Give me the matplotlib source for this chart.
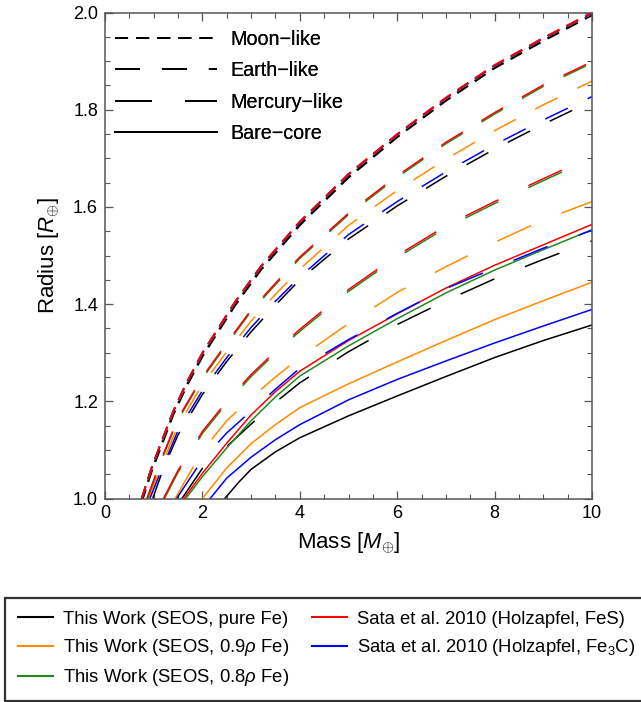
import matplotlib
matplotlib.use("Agg")
import matplotlib.pyplot as plt
from matplotlib.lines import Line2D
from matplotlib.ticker import MultipleLocator, FormatStrFormatter

plt.rcParams['font.family'] = ['Liberation Sans', 'DejaVu Sans']
plt.rcParams['mathtext.fontset'] = 'custom'
plt.rcParams['mathtext.rm'] = 'Liberation Sans'
plt.rcParams['mathtext.it'] = 'Liberation Sans:italic'
plt.rcParams['lines.scale_dashes'] = False

# --- Moon-like mantle ---
moon_m = [0.75, 0.96, 1.4, 1.68, 2.0, 2.67, 3.2, 4.0, 5.0, 6.0, 7.0, 8.0, 9.0, 10.0]
moon_r_fes = [1.0, 1.065, 1.18, 1.24, 1.30, 1.405, 1.478, 1.57, 1.668, 1.75, 1.825, 1.892, 1.948, 2.0]
moon_r_fe3c = [0.999, 1.064, 1.179, 1.239, 1.299, 1.404, 1.477, 1.569, 1.667, 1.749, 1.824, 1.891, 1.947, 1.999]
moon_r_08 = [0.999, 1.064, 1.179, 1.239, 1.299, 1.404, 1.477, 1.569, 1.667, 1.749, 1.824, 1.891, 1.947, 1.999]
moon_r_09 = [0.998, 1.063, 1.178, 1.238, 1.298, 1.403, 1.476, 1.568, 1.666, 1.748, 1.823, 1.89, 1.946, 1.998]
moon_r_fe = [0.993, 1.058, 1.173, 1.233, 1.293, 1.398, 1.471, 1.563, 1.661, 1.744, 1.819, 1.886, 1.942, 1.995]

# --- Earth-like mantle ---
earth_m_fes = [0.86, 1.0, 1.2, 1.5, 2.0, 2.5, 3.0, 3.5, 4.0, 5.0, 6.0, 7.0, 8.0, 9.0, 10.0]
earth_r_fes = [1.0, 1.038, 1.092, 1.165, 1.25, 1.32, 1.388, 1.443, 1.497, 1.587, 1.664, 1.733, 1.794, 1.851, 1.899]
earth_r_08 = [0.997, 1.035, 1.089, 1.162, 1.247, 1.317, 1.385, 1.44, 1.494, 1.584, 1.661, 1.73, 1.791, 1.848, 1.896]
earth_m_09 = [0.89, 1.2, 1.5, 2.0, 2.5, 3.0, 3.5, 4.0, 5.0, 6.0, 7.0, 8.0, 9.0, 10.0]
earth_r_09 = [1.0, 1.078, 1.15, 1.235, 1.302, 1.365, 1.42, 1.472, 1.562, 1.634, 1.698, 1.757, 1.81, 1.859]
earth_m_fe3c = [0.92, 1.2, 1.5, 2.0, 2.5, 3.0, 3.5, 4.0, 5.0, 6.0, 7.0, 8.0, 9.0, 10.0]
earth_r_fe3c = [1.0, 1.068, 1.14, 1.222, 1.29, 1.352, 1.406, 1.456, 1.543, 1.611, 1.672, 1.728, 1.779, 1.827]
earth_m_fe = [0.98, 1.2, 1.5, 2.0, 2.5, 3.0, 3.5, 4.0, 5.0, 6.0, 7.0, 8.0, 9.0, 10.0]
earth_r_fe = [1.0, 1.062, 1.131, 1.214, 1.282, 1.343, 1.398, 1.45, 1.534, 1.602, 1.663, 1.719, 1.77, 1.818]

# --- Mercury-like mantle ---
merc_m_fes = [1.2, 1.5, 2.0, 2.5, 3.0, 3.5, 4.0, 5.0, 6.0, 7.0, 8.0, 9.0, 10.0]
merc_r_fes = [1.0, 1.058, 1.138, 1.2, 1.255, 1.303, 1.348, 1.43, 1.5, 1.561, 1.611, 1.658, 1.704]
merc_r_08 = [0.996, 1.054, 1.134, 1.196, 1.251, 1.299, 1.344, 1.426, 1.496, 1.557, 1.607, 1.654, 1.7]
merc_m_09 = [1.44, 2.0, 2.5, 3.0, 3.5, 4.0, 5.0, 6.0, 7.0, 8.0, 9.0, 10.0]
merc_r_09 = [1.0, 1.098, 1.16, 1.207, 1.25, 1.29, 1.36, 1.424, 1.477, 1.527, 1.573, 1.611]
merc_m_fe3c = [1.47, 2.0, 2.5, 3.0, 3.5, 4.0, 5.0, 6.0, 7.0, 8.0, 9.0, 10.0]
merc_r_fe3c = [1.0, 1.08, 1.135, 1.18, 1.225, 1.268, 1.327, 1.381, 1.432, 1.474, 1.515, 1.552]
merc_m_fe = [1.58, 2.0, 2.5, 3.0, 3.5, 4.0, 5.0, 6.0, 7.0, 8.0, 9.0, 10.0]
merc_r_fe = [1.0, 1.062, 1.107, 1.153, 1.198, 1.238, 1.302, 1.358, 1.407, 1.452, 1.492, 1.53]

# --- Bare core ---
bare_m_fes = [1.62, 2.0, 2.5, 3.0, 3.5, 4.0, 5.0, 6.0, 7.0, 8.0, 9.0, 10.0]
bare_r_fes = [1.0, 1.052, 1.114, 1.172, 1.22, 1.262, 1.325, 1.38, 1.433, 1.48, 1.522, 1.564]
bare_m_08 = [1.66, 2.0, 2.5, 3.0, 3.5, 4.0, 5.0, 6.0, 7.0, 8.0, 9.0, 10.0]
bare_r_08 = [1.0, 1.045, 1.104, 1.16, 1.209, 1.252, 1.314, 1.37, 1.423, 1.47, 1.512, 1.553]
bare_m_09 = [2.0, 2.5, 3.0, 3.5, 4.0, 5.0, 6.0, 7.0, 8.0, 9.0, 10.0]
bare_r_09 = [1.0, 1.063, 1.113, 1.152, 1.187, 1.236, 1.281, 1.325, 1.368, 1.407, 1.445]
bare_m_fe3c = [2.16, 2.5, 3.0, 3.5, 4.0, 5.0, 6.0, 7.0, 8.0, 9.0, 10.0]
bare_r_fe3c = [1.0, 1.042, 1.085, 1.121, 1.152, 1.203, 1.245, 1.283, 1.32, 1.355, 1.389]
bare_m_fe = [2.46, 2.75, 3.0, 3.5, 4.0, 5.0, 6.0, 7.0, 8.0, 9.0, 10.0]
bare_r_fe = [1.0, 1.034, 1.06, 1.096, 1.125, 1.17, 1.211, 1.251, 1.29, 1.325, 1.357]

C_FE = 'black'
C_09 = '#ff8c00'
C_08 = '#1f8a1f'
C_FES = '#ff0000'
C_FE3C = '#0000ff'

# dash patterns in points (on, off)
MOON = (0, (9.4, 5.8))
EARTH = (0, (18.0, 15.8))
MERC = (0, (26.6, 23.8))
BARE = '-'

fig = plt.figure(figsize=(6.41, 7.02), dpi=100)
ax = fig.add_axes([105 / 641, 1 - 498.5 / 702, 487 / 641, 486 / 702])

lw = 1.1
# bare core
ax.plot(bare_m_fe, bare_r_fe, color=C_FE, ls=BARE, lw=lw, zorder=2.0)
ax.plot(bare_m_09, bare_r_09, color=C_09, ls=BARE, lw=lw, zorder=2.1)
ax.plot(bare_m_08, bare_r_08, color=C_08, ls=BARE, lw=lw, zorder=2.2)
ax.plot(bare_m_fe3c, bare_r_fe3c, color=C_FE3C, ls=BARE, lw=lw, zorder=2.3)
ax.plot(bare_m_fes, bare_r_fes, color=C_FES, ls=BARE, lw=lw, zorder=2.4)
# mercury-like
ax.plot(merc_m_fe, merc_r_fe, color=C_FE, ls=MERC, lw=lw, zorder=2.0)
ax.plot(merc_m_09, merc_r_09, color=C_09, ls=MERC, lw=lw, zorder=2.1)
ax.plot(merc_m_fes, merc_r_08, color=C_08, ls=MERC, lw=lw, zorder=2.2)
ax.plot(merc_m_fes, merc_r_fes, color=C_FES, ls=MERC, lw=lw, zorder=2.4)
ax.plot(merc_m_fe3c, merc_r_fe3c, color=C_FE3C, ls=MERC, lw=lw, zorder=2.5)
# earth-like
ax.plot(earth_m_fe, earth_r_fe, color=C_FE, ls=EARTH, lw=lw, zorder=2.0)
ax.plot(earth_m_09, earth_r_09, color=C_09, ls=EARTH, lw=lw, zorder=2.1)
ax.plot(earth_m_fes, earth_r_08, color=C_08, ls=EARTH, lw=lw, zorder=2.2)
ax.plot(earth_m_fe3c, earth_r_fe3c, color=C_FE3C, ls=EARTH, lw=lw, zorder=2.3)
ax.plot(earth_m_fes, earth_r_fes, color=C_FES, ls=EARTH, lw=lw, zorder=2.4)
# moon-like
ax.plot(moon_m, moon_r_fe, color=C_FE, ls=MOON, lw=1.8, zorder=2.0)
ax.plot(moon_m, moon_r_09, color=C_09, ls=MOON, lw=1.3, zorder=2.1)
ax.plot(moon_m, moon_r_08, color=C_08, ls=MOON, lw=1.3, zorder=2.2)
ax.plot(moon_m, moon_r_fe3c, color=C_FE3C, ls=MOON, lw=1.3, zorder=2.3)
ax.plot(moon_m, moon_r_fes, color=C_FES, ls=MOON, lw=1.3, zorder=2.4)

ax.set_xlim(0, 10)
ax.set_ylim(1.0, 2.0)
ax.xaxis.set_major_locator(MultipleLocator(2))
ax.xaxis.set_minor_locator(MultipleLocator(0.5))
ax.yaxis.set_major_locator(MultipleLocator(0.2))
ax.yaxis.set_minor_locator(MultipleLocator(0.05))
ax.yaxis.set_major_formatter(FormatStrFormatter('%.1f'))
frame_c = '#555555'
for s in ax.spines.values():
    s.set_color(frame_c)
    s.set_linewidth(1.1)
ax.tick_params(which='both', direction='in', top=True, right=True, color=frame_c,
               labelsize=13, labelcolor='black')
ax.tick_params(which='major', length=6, width=0.9, pad=5)
ax.tick_params(which='minor', length=3.5, width=0.8)

ax.set_xlabel(r'Mass [$M_{\oplus}$]', fontsize=16, labelpad=6)
ax.set_ylabel(r'Radius [$R_{\oplus}$]', fontsize=16, labelpad=8)

# mantle style legend
style_handles = [
    Line2D([], [], color='black', lw=1.4, ls=MOON),
    Line2D([], [], color='black', lw=1.4, ls=EARTH),
    Line2D([], [], color='black', lw=1.4, ls=MERC),
    Line2D([], [], color='black', lw=1.4, ls=BARE),
]
style_labels = ['Moon\u2212like', 'Earth\u2212like', 'Mercury\u2212like', 'Bare\u2212core']
leg1 = ax.legend(style_handles, style_labels, loc='upper left', frameon=False,
                 fontsize=14.2, handlelength=5.2, handletextpad=0.65,
                 labelspacing=0.62, borderaxespad=0.0,
                 bbox_to_anchor=(0.004, 0.98))
ax.add_artist(leg1)

# composition legend
comp_handles = [
    Line2D([], [], color=C_FE, lw=1.5),
    Line2D([], [], color=C_09, lw=1.5),
    Line2D([], [], color=C_08, lw=1.5),
    Line2D([], [], color=C_FES, lw=1.5),
    Line2D([], [], color=C_FE3C, lw=1.5),
]
comp_labels = [
    'This Work (SEOS, pure Fe)',
    r'This Work (SEOS, 0.9$\rho$ Fe)',
    r'This Work (SEOS, 0.8$\rho$ Fe)',
    'Sata et al. 2010 (Holzapfel, FeS)',
    r'Sata et al. 2010 (Holzapfel, Fe$_3$C)',
]
leg2 = fig.legend(comp_handles, comp_labels, loc='upper left', ncol=2,
                  bbox_to_anchor=(5 / 641, 1 - 598 / 702), fontsize=13.3,
                  handlelength=1.9, handletextpad=0.55, columnspacing=1.2,
                  labelspacing=0.5, borderpad=0.7, fancybox=False,
                  borderaxespad=0.0)
leg2.get_frame().set_edgecolor('black')
leg2.get_frame().set_linewidth(1.6)

fig.savefig('out.png', dpi=100)
